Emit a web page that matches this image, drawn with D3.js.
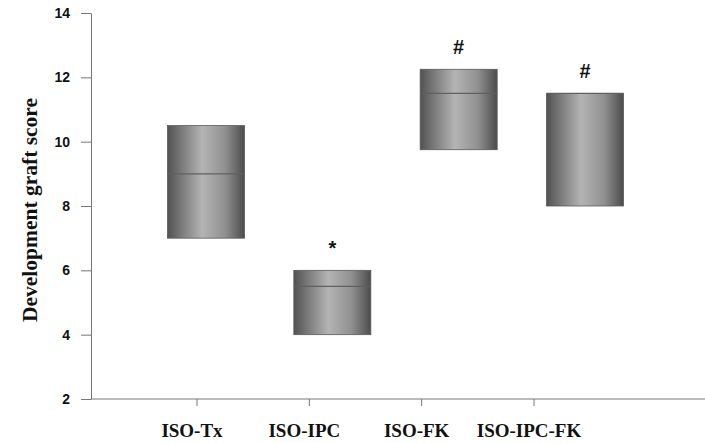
<!DOCTYPE html>
<html>
<head>
<meta charset="utf-8">
<script src="https://cdn.jsdelivr.net/npm/d3@7"></script>
<style>
  body { margin: 0; background: #fff; }
  svg { display: block; }
</style>
</head>
<body>
<svg id="chart" width="705" height="443"></svg>
<script>
// groups and box values
const groups = ["ISO-Tx", "ISO-IPC", "ISO-FK", "ISO-IPC-FK"];
const lows = [7, 4, 9.75, 8];
const highs = [10.5, 6, 12.25, 11.5];
const medians = [9, 5.5, 11.5, 11.5];
const marks = ["", "*", "#", "#"];
const yTicks = [2, 4, 6, 8, 10, 12, 14];

var svg = d3.select("#chart");
var W = 705, H = 443;

var y = d3.scaleLinear().domain([2, 14]).range([399, 13]);

// ticks/labels and boxes don't sit on quite the same spots in the original
var xTick = d3.scalePoint().domain(groups).range([197, 534]);
var xBox = d3.scalePoint().domain(groups).range([206, 585]);
var boxW = 77;

var defs = svg.append("defs");
var grad = defs.append("linearGradient")
    .attr("id", "cyl")
    .attr("x1", "0%").attr("x2", "100%")
    .attr("y1", "0%").attr("y2", "0%");
grad.append("stop").attr("offset", "0%").attr("stop-color", "#525252");
grad.append("stop").attr("offset", "20%").attr("stop-color", "#7e7e7e");
grad.append("stop").attr("offset", "45%").attr("stop-color", "#b4b4b4");
grad.append("stop").attr("offset", "75%").attr("stop-color", "#909090");
grad.append("stop").attr("offset", "100%").attr("stop-color", "#4c4c4c");

// y axis
var yAxis = svg.append("g")
    .attr("transform", "translate(91,0)")
    .call(d3.axisLeft(y).tickValues(yTicks).tickSize(10).tickPadding(11).tickSizeOuter(0));
yAxis.select(".domain").attr("stroke", "#777");
yAxis.selectAll(".tick line").attr("stroke", "#777");
yAxis.selectAll(".tick text")
    .attr("fill", "#111")
    .style("font-family", "'Liberation Sans', Arial, sans-serif")
    .style("font-weight", "bold")
    .style("font-size", "14px");

// x axis
var xAxis = svg.append("g")
    .attr("transform", "translate(0,399)");
xAxis.append("line")
    .attr("x1", 91).attr("x2", W)
    .attr("stroke", "#777");
xAxis.selectAll(".xt")
  .data(groups)
  .join("line")
    .attr("class", "xt")
    .attr("x1", d => xTick(d)).attr("x2", d => xTick(d))
    .attr("y1", 0).attr("y2", 7)
    .attr("stroke", "#777");
xAxis.selectAll(".xl")
  .data(groups)
  .join("text")
    .attr("class", "xl")
    .attr("x", d => xTick(d) - 5)
    .attr("y", 38)
    .attr("text-anchor", "middle")
    .style("font-family", "'Liberation Serif', 'Times New Roman', serif")
    .style("font-weight", "bold")
    .style("font-size", "19px")
    .attr("fill", "#111")
    .text(d => d);

// y label
svg.append("text")
    .attr("transform", "translate(37,210) rotate(-90)")
    .attr("text-anchor", "middle")
    .style("font-family", "'Liberation Serif', 'Times New Roman', serif")
    .style("font-weight", "bold")
    .style("font-size", "21.5px")
    .attr("fill", "#111")
    .text("Development graft score");

// boxes
var box = svg.append("g").selectAll(".box")
  .data(groups)
  .join("g")
    .attr("class", "box");

box.append("rect")
    .attr("x", d => xBox(d) - boxW / 2)
    .attr("width", boxW)
    .attr("y", (d, i) => y(highs[i]))
    .attr("height", (d, i) => y(lows[i]) - y(highs[i]))
    .attr("fill", "url(#cyl)")
    .attr("stroke", "#5a5a5a")
    .attr("stroke-width", 0.8);

box.append("line")
    .attr("x1", d => xBox(d) - boxW / 2)
    .attr("x2", d => xBox(d) + boxW / 2)
    .attr("y1", (d, i) => y(medians[i]))
    .attr("y2", (d, i) => y(medians[i]))
    .attr("stroke", "#606060")
    .attr("stroke-width", 1.2);

box.append("text")
    .attr("x", d => xBox(d))
    .attr("y", (d, i) => y(highs[i]) - 15)
    .attr("text-anchor", "middle")
    .style("font-family", "'Liberation Sans', Arial, sans-serif")
    .style("font-weight", "bold")
    .style("font-size", "20px")
    .attr("fill", "#111")
    .text((d, i) => marks[i]);
</script>
</body>
</html>
